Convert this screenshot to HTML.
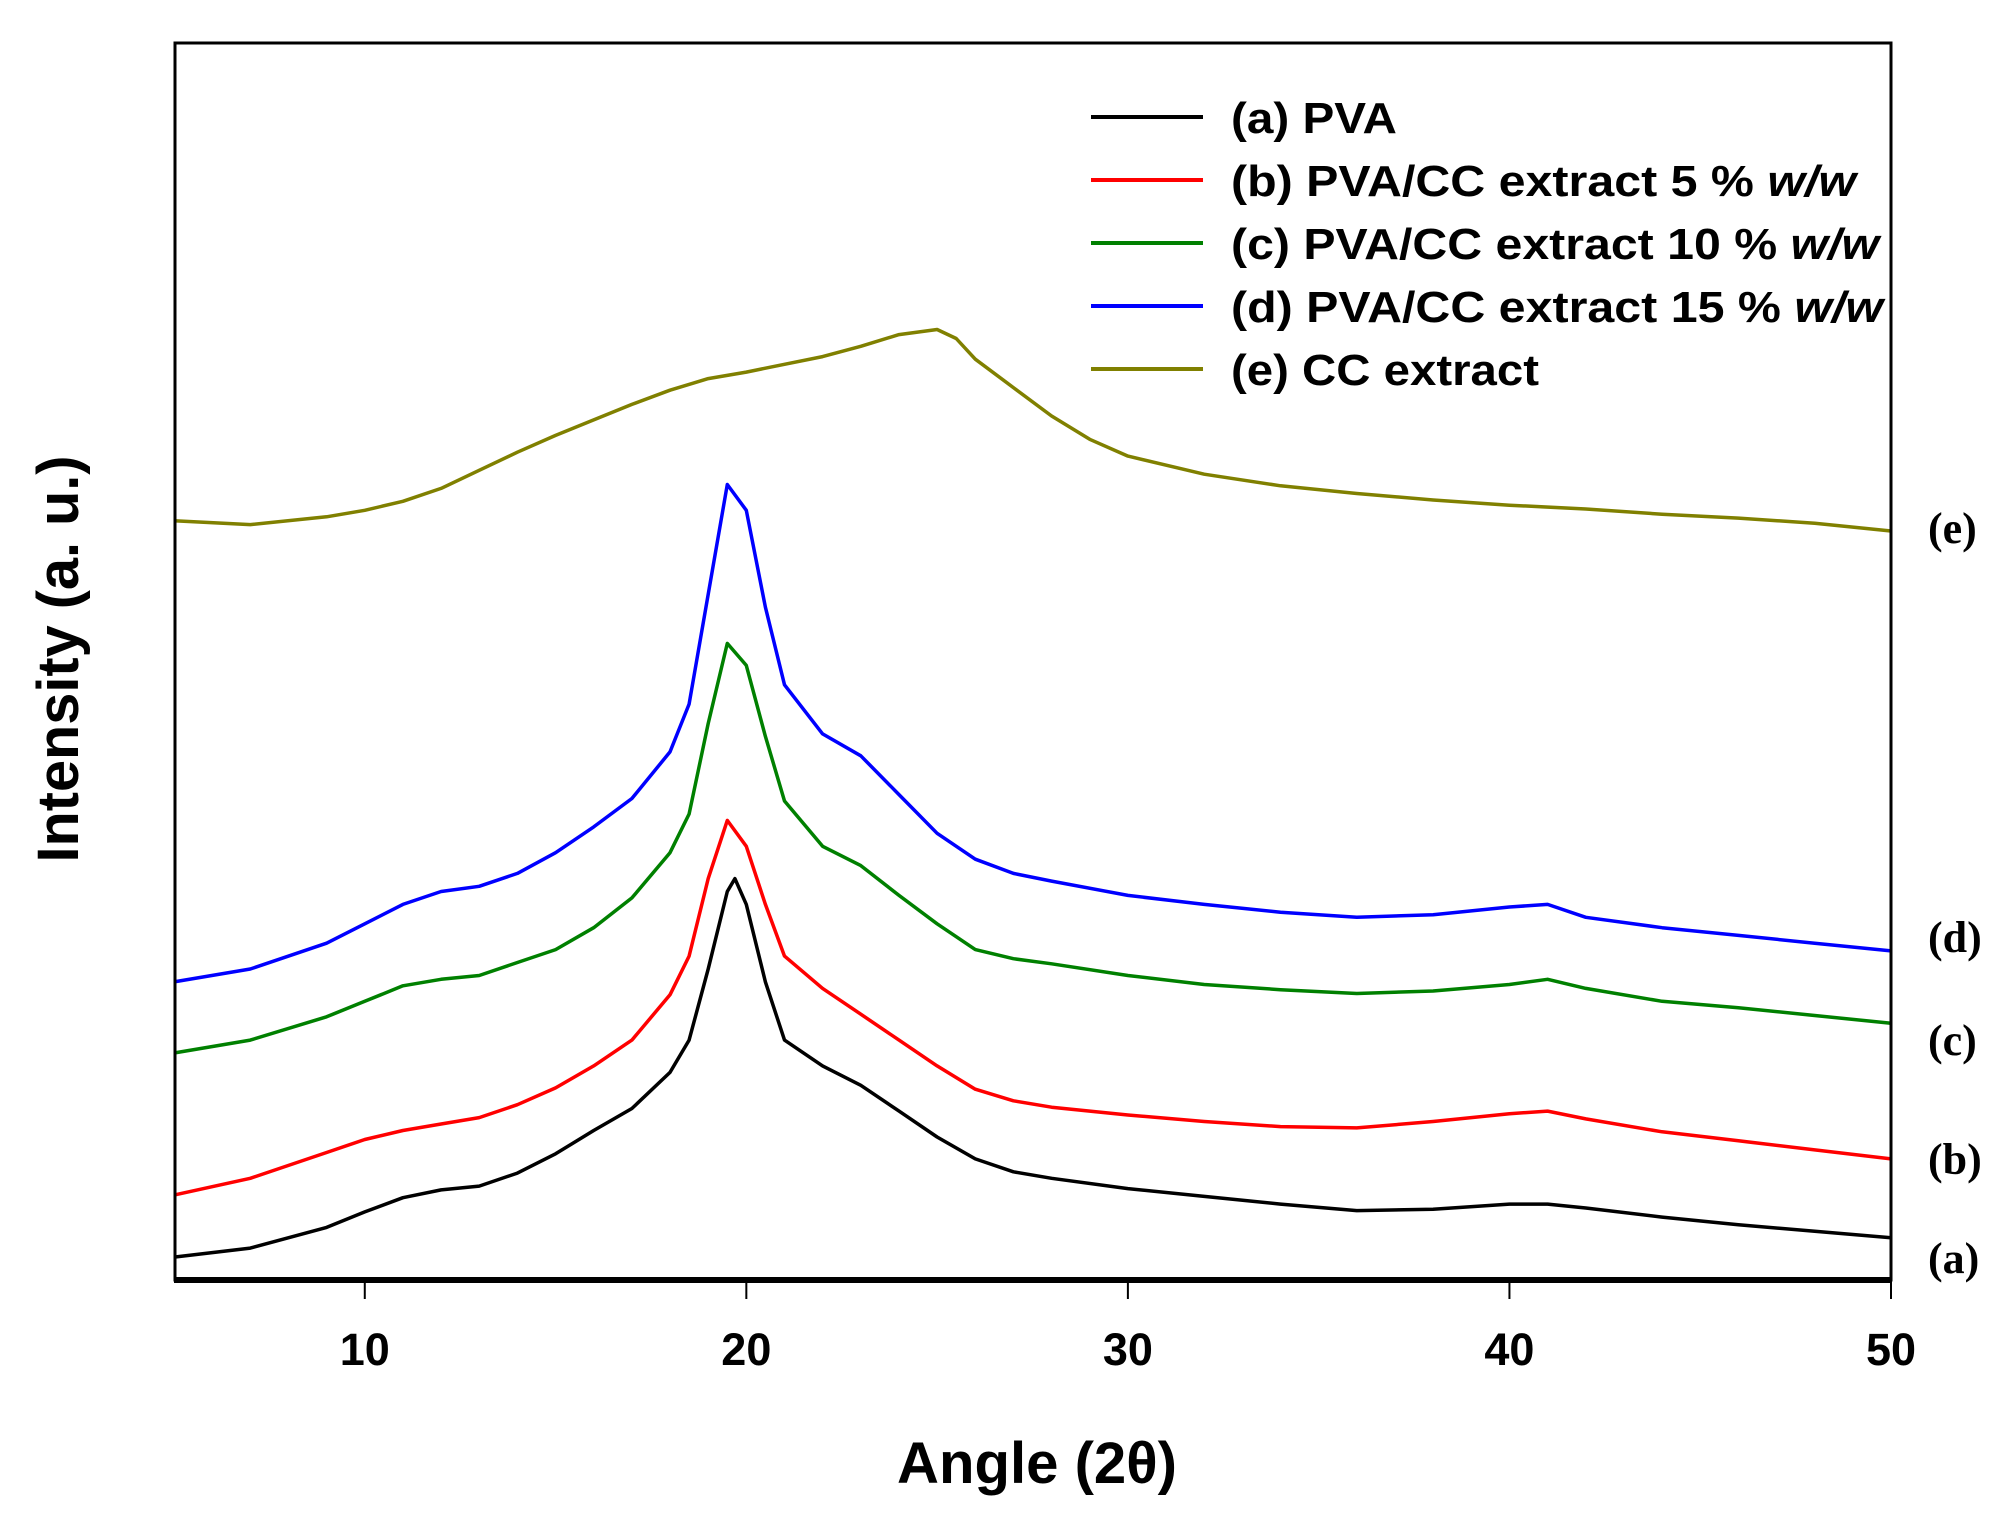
<!DOCTYPE html>
<html><head><meta charset="utf-8"><style>html,body{margin:0;padding:0;background:#fff}svg{display:block}</style></head>
<body>
<svg id="chart" width="2016" height="1523" viewBox="0 0 2016 1523" xmlns="http://www.w3.org/2000/svg">
<rect x="0" y="0" width="2016" height="1523" fill="#fff"/>
<g id="plot"></g>
<rect x="175" y="43" width="1716" height="1237" fill="none" stroke="#000" stroke-width="3"/>
<line x1="174" y1="1280" x2="1892" y2="1280" stroke="#000" stroke-width="6"/>
<g id="ticks"></g>
<text x="1037" y="1483" font-family="Liberation Sans, sans-serif" font-weight="bold" font-size="58" text-anchor="middle" textLength="280" lengthAdjust="spacingAndGlyphs">Angle (2θ)</text>
<text transform="translate(78,659) rotate(-90)" font-family="Liberation Sans, sans-serif" font-weight="bold" font-size="58" text-anchor="middle" textLength="407" lengthAdjust="spacingAndGlyphs">Intensity (a. u.)</text>
<g id="legend"></g>
<g id="sidelabels" font-family="Liberation Serif, serif" font-weight="bold" font-size="44">
<text x="1928" y="543">(e)</text>
<text x="1928" y="952">(d)</text>
<text x="1928" y="1055">(c)</text>
<text x="1928" y="1174">(b)</text>
<text x="1928" y="1273">(a)</text>
</g>
</svg>
<script>
const xTicks = [10, 20, 30, 40, 50];
const xA = [5,7,9,10,11,12,13,14,15,16,17,18,18.5,19,19.5,19.7,20,20.5,21,22,23,24,25,26,27,28,30,32,34,36,38,40,41,42,44,46,48,50];
const yA = [27,34,50,62,73,79,82,92,107,125,142,170,195,250,310,320,300,240,195,175,160,140,120,103,93,88,80,74,68,63,64,68,68,65,58,52,47,42];
const xBCD = [5,7,9,10,11,12,13,14,15,16,17,18,18.5,19,19.5,20,20.5,21,22,23,24,25,26,27,28,30,32,34,36,38,40,41,42,44,46,48,50];
const yB = [75,88,108,118,125,130,135,145,158,175,195,230,260,320,365,345,300,260,235,215,195,175,157,148,143,137,132,128,127,132,138,140,134,124,117,110,103];
const yC = [185,195,213,225,237,242,245,255,265,282,305,340,370,440,502,485,430,380,345,330,307,285,265,258,254,245,238,234,231,233,238,242,235,225,220,214,208];
const yD = [240,250,270,285,300,310,314,324,340,360,382,418,455,540,625,605,530,470,432,415,385,355,335,324,318,307,300,294,290,292,298,300,290,282,276,270,264];
const xE = [5,7,9,10,11,12,13,14,15,16,17,18,19,20,21,22,23,24,25,25.5,26,27,28,29,30,32,34,36,38,40,42,44,46,48,50];
const yE = [597,594,600,605,612,622,636,650,663,675,687,698,707,712,718,724,732,741,745,738,722,700,678,660,647,633,624,618,613,609,606,602,599,595,589];
const seriesNames = ["(a) PVA","(b) PVA/CC extract 5 % w/w","(c) PVA/CC extract 10 % w/w","(d) PVA/CC extract 15 % w/w","(e) CC extract"];

const NS = "http://www.w3.org/2000/svg";
function sx(d){ return 174 + (d - 5) * (1717 / 45); }
function sy(v){ return (1000 - v) * 1.292; }
const series = [
  {x:xA, y:yA, c:"#000000", n:"series-a-pva", len:166},
  {x:xBCD, y:yB, c:"#ff0000", n:"series-b-pva-cc-5", len:625},
  {x:xBCD, y:yC, c:"#008000", n:"series-c-pva-cc-10", len:648},
  {x:xBCD, y:yD, c:"#0000ff", n:"series-d-pva-cc-15", len:652},
  {x:xE, y:yE, c:"#808000", n:"series-e-cc-extract", len:308}
];
const plot = document.getElementById('plot');
series.forEach(s => {
  const p = document.createElementNS(NS, 'polyline');
  p.setAttribute('points', s.x.map((d,i) => sx(d).toFixed(1) + ',' + sy(s.y[i]).toFixed(1)).join(' '));
  p.setAttribute('fill', 'none');
  p.setAttribute('stroke', s.c);
  p.setAttribute('stroke-width', '3.5');
  p.setAttribute('stroke-linejoin', 'round');
  
  
  plot.appendChild(p);
});
const ticks = document.getElementById('ticks');
xTicks.forEach(t => {
  const l = document.createElementNS(NS, 'line');
  l.setAttribute('x1', sx(t)); l.setAttribute('x2', sx(t));
  l.setAttribute('y1', 1280); l.setAttribute('y2', 1299);
  l.setAttribute('stroke', '#000'); l.setAttribute('stroke-width', '2');
  
  
  ticks.appendChild(l);
  const tx = document.createElementNS(NS, 'text');
  tx.setAttribute('x', sx(t)); tx.setAttribute('y', 1365);
  tx.setAttribute('text-anchor', 'middle');
  tx.setAttribute('font-family', 'Liberation Sans, sans-serif');
  tx.setAttribute('font-weight', 'bold');
  tx.setAttribute('font-size', '45');
  tx.textContent = t;
  
  
  ticks.appendChild(tx);
});
const legend = document.getElementById('legend');
series.forEach((s, i) => {
  const cy = 117 + i * 63;
  const g = document.createElementNS(NS, 'g');
  
  
  const l = document.createElementNS(NS, 'line');
  l.setAttribute('x1', 1091); l.setAttribute('x2', 1203);
  l.setAttribute('y1', cy); l.setAttribute('y2', cy);
  l.setAttribute('stroke', s.c); l.setAttribute('stroke-width', '4');
  g.appendChild(l);
  const tx = document.createElementNS(NS, 'text');
  tx.setAttribute('x', 1231); tx.setAttribute('y', cy + 16);
  tx.setAttribute('font-family', 'Liberation Sans, sans-serif');
  tx.setAttribute('font-weight', 'bold');
  tx.setAttribute('font-size', '44');
  tx.setAttribute('textLength', s.len);
  tx.setAttribute('lengthAdjust', 'spacingAndGlyphs');
  const name = seriesNames[i];
  if (name.endsWith('w/w')) {
    tx.appendChild(document.createTextNode(name.slice(0, -3)));
    const it = document.createElementNS(NS, 'tspan');
    it.setAttribute('font-style', 'italic');
    it.textContent = 'w/w';
    tx.appendChild(it);
  } else tx.textContent = name;
  g.appendChild(tx);
  legend.appendChild(g);
});
</script>
</body></html>
